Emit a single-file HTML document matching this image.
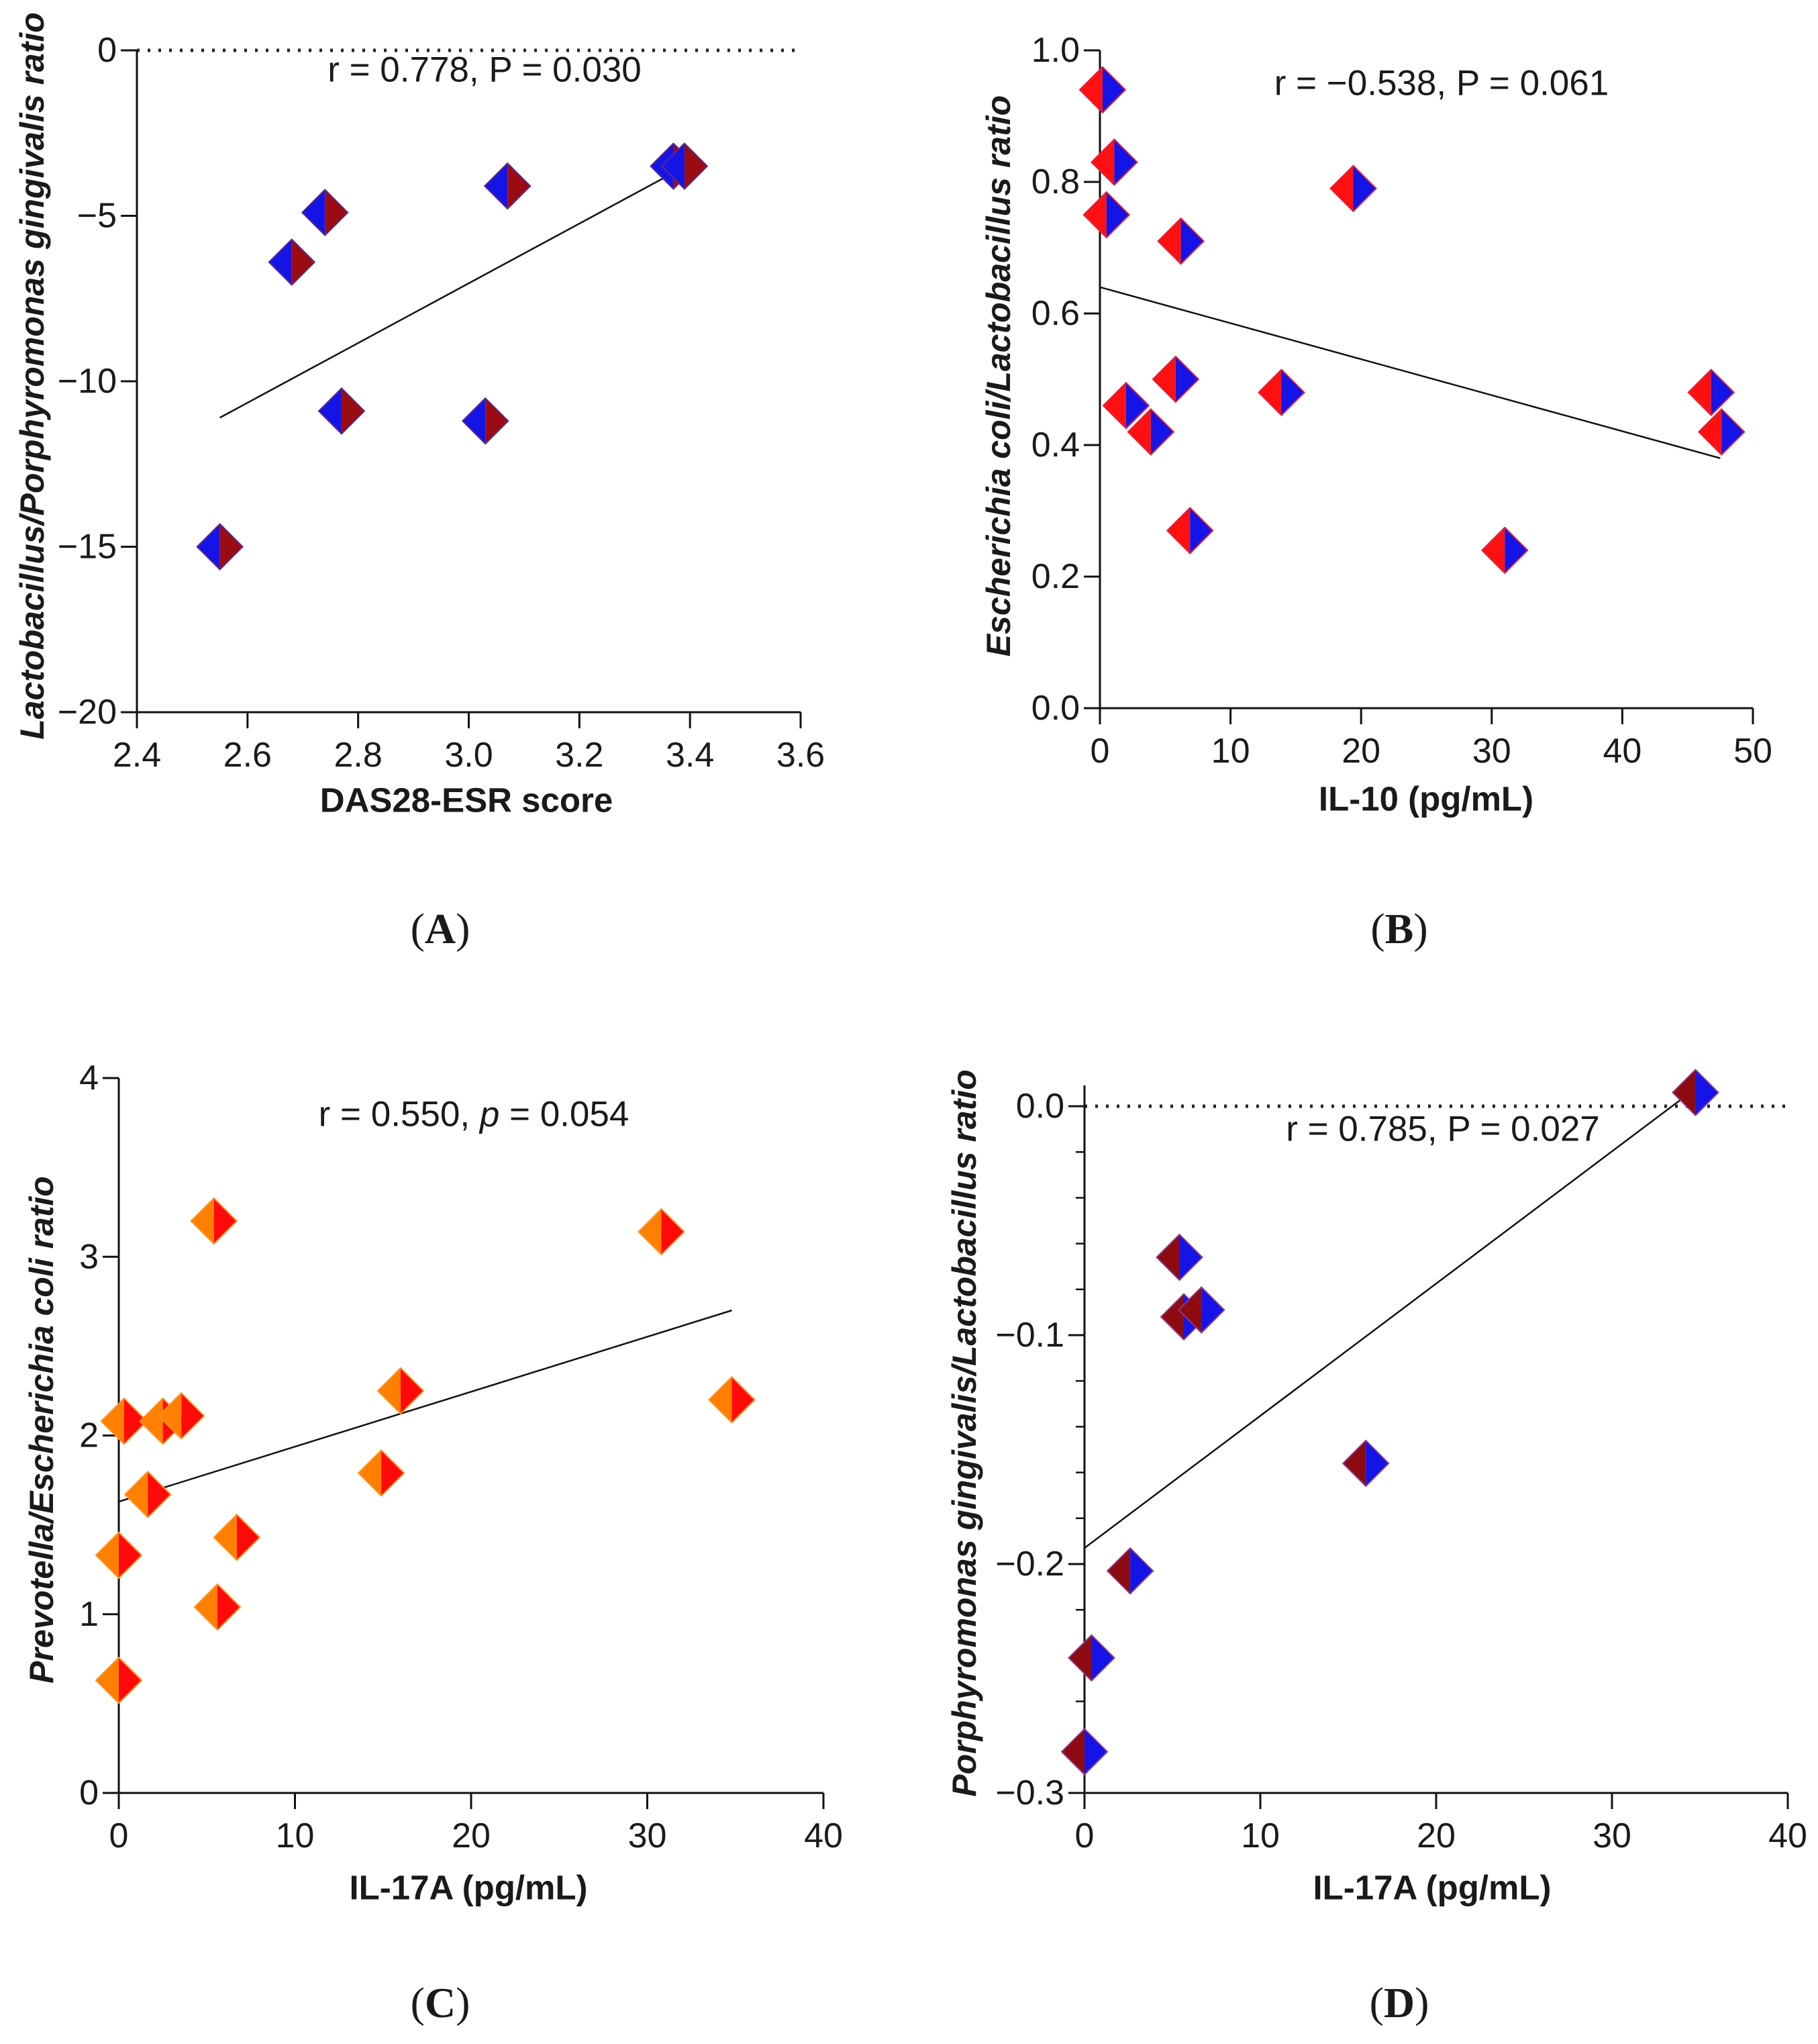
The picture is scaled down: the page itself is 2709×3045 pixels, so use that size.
<!DOCTYPE html>
<html><head><meta charset="utf-8"><style>
html,body{margin:0;padding:0;background:#fff}
svg{display:block}
text{font-family:"Liberation Sans",sans-serif;fill:#1a1a1a}
</style></head><body>
<svg id="chart" width="2709" height="3045" viewBox="0 0 2709 3045" xmlns="http://www.w3.org/2000/svg"></svg>
<script>
// Panel A data
const aX = [2.55, 2.68, 2.74, 2.77, 3.03, 3.07, 3.37, 3.39];
const aY = [-15, -6.4, -4.9, -10.9, -11.2, -4.1, -3.5, -3.5];
const aFitX = [2.55, 3.37];
const aFitY = [-11.1, -3.7];
const aXTicks = [2.4, 2.6, 2.8, 3.0, 3.2, 3.4, 3.6];
const aYTicks = [0, -5, -10, -15, -20];
// Panel B data
const bX = [0.2, 1.1, 0.5, 6.2, 19.4, 5.8, 2.0, 3.9, 13.9, 6.9, 31.0, 46.8, 47.6];
const bY = [0.94, 0.83, 0.75, 0.71, 0.79, 0.50, 0.46, 0.42, 0.48, 0.27, 0.24, 0.48, 0.42];
const bFitX = [0, 47.5];
const bFitY = [0.64, 0.38];
const bXTicks = [0, 10, 20, 30, 40, 50];
const bYTicks = [0.0, 0.2, 0.4, 0.6, 0.8, 1.0];
// Panel C data
const cX = [0.3, 2.5, 3.55, 5.4, 30.8, 16.0, 34.8, 14.9, 1.65, 6.7, 0, 5.6, 0];
const cY = [2.08, 2.08, 2.11, 3.2, 3.14, 2.25, 2.2, 1.79, 1.67, 1.43, 1.33, 1.04, 0.63];
const cFitX = [0, 34.8];
const cFitY = [1.63, 2.70];
const cXTicks = [0, 10, 20, 30, 40];
const cYTicks = [0, 1, 2, 3, 4];
// Panel D data
const dX = [34.75, 5.4, 5.65, 6.65, 16.0, 2.6, 0.4, 0];
const dY = [0.006, -0.066, -0.092, -0.089, -0.156, -0.203, -0.241, -0.282];
const dFitX = [0, 34.8];
const dFitY = [-0.193, 0.008];
const dXTicks = [0, 10, 20, 30, 40];
const dYTicks = [0.0, -0.1, -0.2, -0.3];
const dYMinor = [-0.02, -0.04, -0.06, -0.08, -0.12, -0.14, -0.16, -0.18, -0.22, -0.24, -0.26, -0.28];

const NS = "http://www.w3.org/2000/svg";
const svg = document.getElementById('chart');
function mk(tag, attrs, parent){
  const e = document.createElementNS(NS, tag);
  for (const k in attrs) e.setAttribute(k, attrs[k]);
  (parent || svg).appendChild(e);
  return e;
}
function fmt(v, dec){ const s = Math.abs(v).toFixed(dec); return (v < 0 ? '\u2212' : '') + s; }

function panel(o){
  const g = mk('g', {});
  
  
  const sx = v => o.x0 + (v - o.xmin) / (o.xmax - o.xmin) * (o.x1 - o.x0);
  const sy = v => o.y0 + (v - o.ymin) / (o.ymax - o.ymin) * (o.y1 - o.y0);
  if (o.zeroLine){
    const zl = mk('line', {x1: o.x0, x2: o.zeroEnd, y1: sy(0), y2: sy(0), stroke: '#222', 'stroke-width': 5, 'stroke-dasharray': '4 12'}, g);
    
    
  }
  const xa = mk('line', {x1: o.x0, x2: o.x1, y1: o.y0, y2: o.y0, stroke: '#111', 'stroke-width': 3}, g);
  
  
  const ya = mk('line', {x1: o.x0, x2: o.x0, y1: o.y0 + 1.5, y2: o.yTop, stroke: '#111', 'stroke-width': 3}, g);
  
  
  o.xTicks.forEach(v => {
    mk('line', {x1: sx(v), x2: sx(v), y1: o.y0, y2: o.y0 + 24, stroke: '#111', 'stroke-width': 3}, g);
    const t = mk('text', {x: sx(v), y: o.y0 + 64, 'font-size': 52, 'text-anchor': 'middle', 'dominant-baseline': 'central'}, g);
    t.textContent = fmt(v, o.xDec);
    
    
  });
  o.yTicks.forEach(v => {
    mk('line', {x1: o.x0 - 24, x2: o.x0, y1: sy(v), y2: sy(v), stroke: '#111', 'stroke-width': 3}, g);
    const t = mk('text', {x: o.x0 - 30, y: sy(v), 'font-size': 52, 'text-anchor': 'end', 'dominant-baseline': 'central'}, g);
    t.textContent = fmt(v, o.yDec);
    
    
  });
  (o.yMinor || []).forEach(v => {
    mk('line', {x1: o.x0 - 13, x2: o.x0, y1: sy(v), y2: sy(v), stroke: '#111', 'stroke-width': 2.5}, g);
  });
  const fl = mk('line', {x1: sx(o.fitX[0]), y1: sy(o.fitY[0]), x2: sx(o.fitX[1]), y2: sy(o.fitY[1]), stroke: '#111', 'stroke-width': 2.5}, g);
  
  
  const r = 34;
  o.xs.forEach((xv, i) => {
    const cx = sx(xv), cy = sy(o.ys[i]);
    const pg = mk('g', {}, g);
    
    
    mk('polygon', {points: `${cx},${cy-r} ${cx},${cy+r} ${cx-r},${cy}`, fill: o.cl}, pg);
    mk('polygon', {points: `${cx},${cy-r} ${cx+r},${cy} ${cx},${cy+r}`, fill: o.cr}, pg);
    mk('polygon', {points: `${cx},${cy-r} ${cx+r},${cy} ${cx},${cy+r} ${cx-r},${cy}`, fill: 'none', stroke: o.edge, 'stroke-width': 2}, pg);
  });
  const an = mk('text', {x: o.annX, y: o.annY, 'font-size': 53, 'text-anchor': 'middle', 'dominant-baseline': 'central'}, g);
  an.innerHTML = o.ann;
  
  
  const xt = mk('text', {x: o.xtX, y: o.xtY, 'font-size': 51, 'font-weight': 'bold', 'text-anchor': 'middle', 'dominant-baseline': 'central'}, g);
  xt.textContent = o.xTitle;
  
  
  const yt = mk('text', {x: 0, y: 0, 'font-size': 50, 'font-weight': 'bold', 'text-anchor': 'middle', 'dominant-baseline': 'central', transform: `translate(${o.ytX},${o.ytY}) rotate(-90)`}, g);
  yt.innerHTML = o.yTitle;
  
  
  const pl = mk('text', {x: o.lblX, y: o.lblY, 'font-size': 64, 'text-anchor': 'middle', 'dominant-baseline': 'central', style: 'font-family:"Liberation Serif",serif'}, g);
  pl.innerHTML = o.lbl;
  
  
}

panel({name: 'panel-a', x0: 204, x1: 1193, y0: 1061, y1: 75, yTop: 75, xmin: 2.4, xmax: 3.6, ymin: -20, ymax: 0,
  xTicks: aXTicks, yTicks: aYTicks, xDec: 1, yDec: 0, xs: aX, ys: aY, fitX: aFitX, fitY: aFitY,
  cl: '#1414e6', cr: '#9a0c12', edge: '#5a2a8a', zeroLine: true, zeroEnd: 1193,
  ann: 'r = 0.778, P = 0.030', annX: 722, annY: 104,
  xTitle: 'DAS28-ESR score', xtX: 695, xtY: 1192,
  yTitle: '<tspan font-style="italic">Lactobacillus/Porphyromonas gingivalis ratio</tspan>', ytX: 48, ytY: 560,
  lbl: '(<tspan font-weight="bold">A</tspan>)', lblX: 656, lblY: 1383});

panel({name: 'panel-b', x0: 1639, x1: 2612, y0: 1055, y1: 75, yTop: 75, xmin: 0, xmax: 50, ymin: 0, ymax: 1.0,
  xTicks: bXTicks, yTicks: bYTicks, xDec: 0, yDec: 1, xs: bX, ys: bY, fitX: bFitX, fitY: bFitY,
  cl: '#ff1010', cr: '#1414e6', edge: '#e0203a', zeroLine: false,
  ann: 'r = \u22120.538, P = 0.061', annX: 2148, annY: 124,
  xTitle: 'IL-10 (pg/mL)', xtX: 2125, xtY: 1190,
  yTitle: '<tspan font-style="italic">Escherichia coli/Lactobacillus ratio</tspan>', ytX: 1488, ytY: 560,
  lbl: '(<tspan font-weight="bold">B</tspan>)', lblX: 2085, lblY: 1383});

panel({name: 'panel-c', x0: 177, x1: 1227, y0: 2671, y1: 1606, yTop: 1606, xmin: 0, xmax: 40, ymin: 0, ymax: 4,
  xTicks: cXTicks, yTicks: cYTicks, xDec: 0, yDec: 0, xs: cX, ys: cY, fitX: cFitX, fitY: cFitY,
  cl: '#ff8000', cr: '#ff0a0a', edge: '#ff9020', zeroLine: false,
  ann: 'r = 0.550, <tspan font-style="italic">p</tspan> = 0.054', annX: 706, annY: 1660,
  xTitle: 'IL-17A (pg/mL)', xtX: 698, xtY: 2812,
  yTitle: '<tspan font-style="italic">Prevotella/Escherichia coli ratio</tspan>', ytX: 62, ytY: 2130,
  lbl: '(<tspan font-weight="bold">C</tspan>)', lblX: 656, lblY: 2983});

panel({name: 'panel-d', x0: 1616, x1: 2664, y0: 2671, y1: 1648, yTop: 1617, xmin: 0, xmax: 40, ymin: -0.3, ymax: 0,
  xTicks: dXTicks, yTicks: dYTicks, yMinor: dYMinor, xDec: 0, yDec: 1, xs: dX, ys: dY, fitX: dFitX, fitY: dFitY,
  cl: '#8c0a10', cr: '#1414e6', edge: '#8a3a8a', zeroLine: true, zeroEnd: 2660,
  ann: 'r = 0.785, P = 0.027', annX: 2150, annY: 1682,
  xTitle: 'IL-17A (pg/mL)', xtX: 2134, xtY: 2812,
  yTitle: '<tspan font-style="italic">Porphyromonas gingivalis/Lactobacillus ratio</tspan>', ytX: 1437, ytY: 2135,
  lbl: '(<tspan font-weight="bold">D</tspan>)', lblX: 2085, lblY: 2983});
</script>
</body></html>
